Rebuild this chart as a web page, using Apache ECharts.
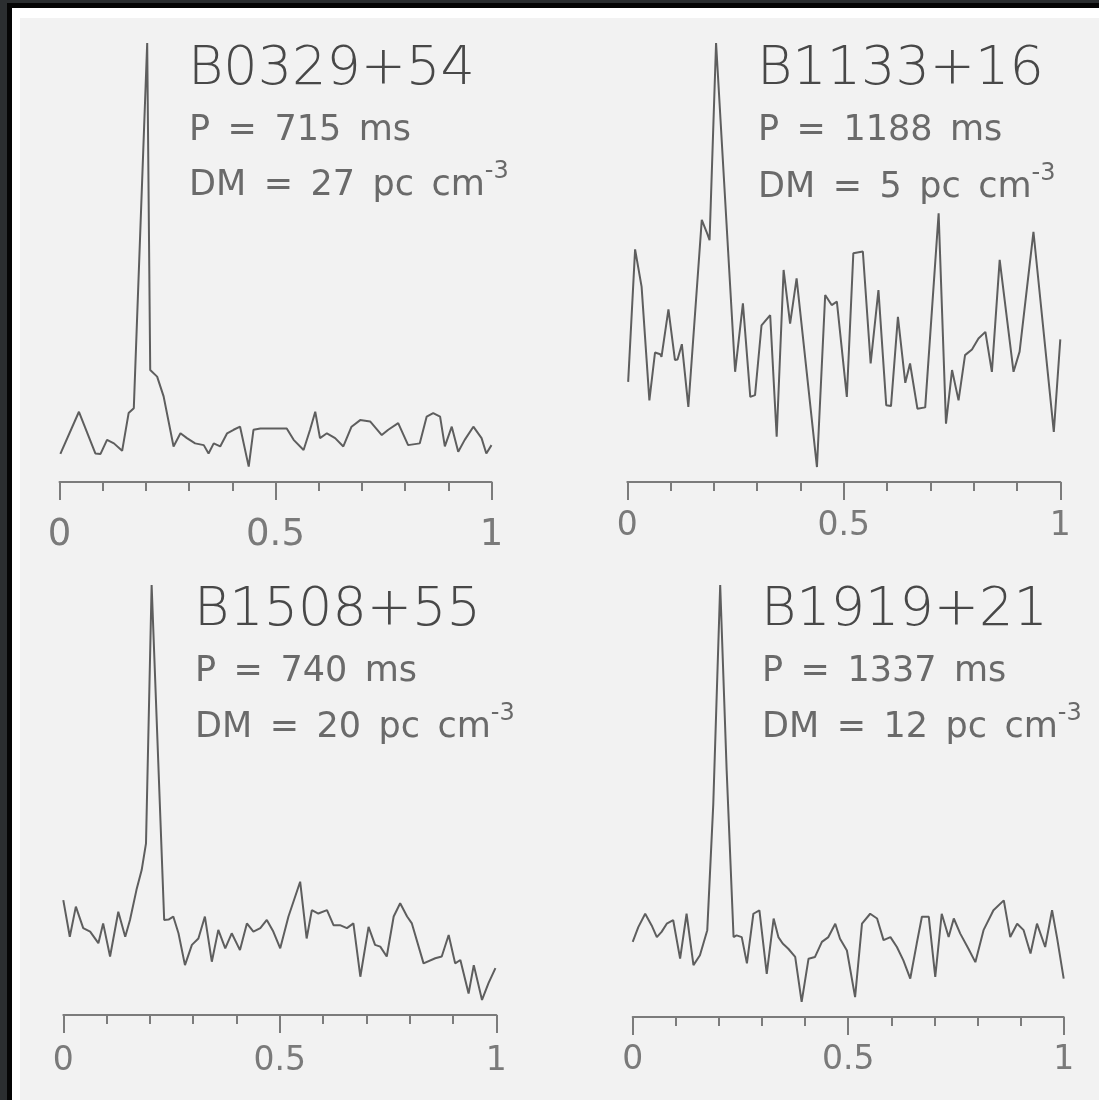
<!DOCTYPE html>
<html>
<head>
<meta charset="utf-8">
<script src="https://cdn.jsdelivr.net/npm/echarts@6/dist/echarts.min.js"></script>
<style>
  html, body { margin: 0; padding: 0; background: #2b2e30; }
  #chart { width: 1099px; height: 1100px; }
</style>
</head>
<body>
<div id="chart"></div>
<script>
// Pulsar parameters
const pulsarNames = ['B0329+54', 'B1133+16', 'B1508+55', 'B1919+21'];
const periodsMs = [715, 1188, 740, 1337];
const dispersionMeasures = [27, 5, 20, 12];

// Integrated pulse profiles: pulse phase and normalised intensity
const b0329Phase = [0.002, 0.045, 0.083, 0.095, 0.110, 0.126, 0.145, 0.160, 0.172, 0.203, 0.210, 0.226, 0.241, 0.264, 0.280, 0.295, 0.314, 0.334, 0.345, 0.357, 0.372, 0.388, 0.403, 0.418, 0.438, 0.449, 0.465, 0.488, 0.526, 0.542, 0.565, 0.580, 0.592, 0.603, 0.619, 0.638, 0.657, 0.676, 0.696, 0.719, 0.746, 0.761, 0.784, 0.807, 0.834, 0.850, 0.865, 0.881, 0.892, 0.908, 0.923, 0.938, 0.958, 0.977, 0.988, 1.000];
const b0329Flux = [0.064, 0.160, 0.065, 0.064, 0.096, 0.088, 0.071, 0.157, 0.168, 1.000, 0.255, 0.240, 0.195, 0.081, 0.111, 0.100, 0.088, 0.084, 0.065, 0.088, 0.081, 0.111, 0.119, 0.126, 0.035, 0.119, 0.122, 0.122, 0.122, 0.096, 0.073, 0.119, 0.160, 0.100, 0.111, 0.100, 0.081, 0.126, 0.141, 0.138, 0.107, 0.119, 0.134, 0.084, 0.088, 0.149, 0.157, 0.149, 0.081, 0.126, 0.069, 0.096, 0.126, 0.100, 0.065, 0.084];

const b1133Phase = [0.002, 0.018, 0.033, 0.051, 0.064, 0.076, 0.079, 0.095, 0.110, 0.116, 0.126, 0.141, 0.172, 0.183, 0.190, 0.205, 0.249, 0.267, 0.284, 0.295, 0.310, 0.330, 0.345, 0.361, 0.376, 0.391, 0.438, 0.457, 0.472, 0.484, 0.507, 0.522, 0.544, 0.562, 0.580, 0.598, 0.609, 0.625, 0.642, 0.653, 0.670, 0.688, 0.719, 0.736, 0.750, 0.765, 0.780, 0.796, 0.811, 0.827, 0.842, 0.860, 0.892, 0.906, 0.938, 0.985, 1.000];
const b1133Flux = [0.228, 0.530, 0.445, 0.186, 0.295, 0.291, 0.285, 0.393, 0.278, 0.279, 0.314, 0.171, 0.597, 0.570, 0.551, 1.000, 0.251, 0.407, 0.194, 0.198, 0.357, 0.380, 0.103, 0.483, 0.361, 0.464, 0.034, 0.426, 0.403, 0.411, 0.194, 0.521, 0.525, 0.270, 0.437, 0.175, 0.173, 0.376, 0.226, 0.270, 0.167, 0.170, 0.612, 0.133, 0.255, 0.186, 0.289, 0.302, 0.327, 0.342, 0.251, 0.506, 0.251, 0.297, 0.570, 0.114, 0.325];

const b1508Phase = [0.000, 0.015, 0.029, 0.046, 0.062, 0.081, 0.092, 0.108, 0.127, 0.143, 0.154, 0.169, 0.181, 0.191, 0.204, 0.233, 0.243, 0.254, 0.266, 0.281, 0.297, 0.312, 0.327, 0.343, 0.358, 0.374, 0.389, 0.408, 0.424, 0.439, 0.455, 0.470, 0.485, 0.501, 0.520, 0.547, 0.562, 0.574, 0.589, 0.609, 0.624, 0.639, 0.655, 0.670, 0.686, 0.705, 0.720, 0.732, 0.747, 0.763, 0.778, 0.794, 0.805, 0.832, 0.859, 0.874, 0.890, 0.905, 0.917, 0.936, 0.948, 0.967, 0.982, 0.998];
const b1508Flux = [0.267, 0.182, 0.252, 0.202, 0.194, 0.167, 0.213, 0.136, 0.240, 0.182, 0.221, 0.291, 0.337, 0.399, 1.000, 0.221, 0.222, 0.229, 0.190, 0.116, 0.163, 0.178, 0.229, 0.124, 0.198, 0.155, 0.190, 0.151, 0.213, 0.194, 0.202, 0.221, 0.194, 0.155, 0.229, 0.310, 0.178, 0.244, 0.236, 0.244, 0.209, 0.209, 0.202, 0.213, 0.089, 0.205, 0.163, 0.159, 0.136, 0.229, 0.260, 0.229, 0.213, 0.120, 0.132, 0.136, 0.186, 0.120, 0.128, 0.050, 0.116, 0.035, 0.074, 0.109];

const b1919Phase = [0.000, 0.013, 0.029, 0.044, 0.056, 0.067, 0.079, 0.094, 0.110, 0.125, 0.141, 0.156, 0.173, 0.187, 0.203, 0.218, 0.234, 0.241, 0.253, 0.265, 0.280, 0.294, 0.311, 0.327, 0.338, 0.348, 0.361, 0.377, 0.392, 0.408, 0.423, 0.439, 0.454, 0.470, 0.481, 0.497, 0.516, 0.532, 0.551, 0.567, 0.582, 0.598, 0.613, 0.628, 0.644, 0.659, 0.671, 0.687, 0.702, 0.717, 0.733, 0.745, 0.760, 0.779, 0.795, 0.814, 0.837, 0.861, 0.876, 0.892, 0.907, 0.923, 0.938, 0.957, 0.973, 0.985, 1.000];
const b1919Flux = [0.174, 0.208, 0.239, 0.212, 0.185, 0.197, 0.216, 0.224, 0.135, 0.239, 0.120, 0.143, 0.201, 0.494, 1.000, 0.571, 0.185, 0.189, 0.185, 0.124, 0.239, 0.247, 0.100, 0.228, 0.185, 0.170, 0.158, 0.139, 0.035, 0.135, 0.139, 0.174, 0.185, 0.216, 0.181, 0.154, 0.046, 0.216, 0.239, 0.228, 0.178, 0.185, 0.162, 0.131, 0.089, 0.170, 0.232, 0.232, 0.093, 0.239, 0.185, 0.228, 0.193, 0.158, 0.127, 0.201, 0.247, 0.270, 0.185, 0.216, 0.201, 0.147, 0.216, 0.162, 0.247, 0.181, 0.089];

const profiles = [
  [b0329Phase, b0329Flux],
  [b1133Phase, b1133Flux],
  [b1508Phase, b1508Flux],
  [b1919Phase, b1919Flux]
];

// Panel placement on the page
const layout = [
  { left: 59.5,  top: 43,  width: 432, height: 439, labelSize: 37, labelMargin: 35, textX: 188, titleY: 70, pY: 131, dmY: 186 },
  { left: 627.3, top: 43,  width: 433, height: 439, labelSize: 33, labelMargin: 28, textX: 757, titleY: 70, pY: 131, dmY: 188 },
  { left: 63.3,  top: 585, width: 433, height: 430, labelSize: 33, labelMargin: 30, textX: 194, titleY: 611, pY: 672, dmY: 728 },
  { left: 632.7, top: 585, width: 431, height: 432, labelSize: 33, labelMargin: 27, textX: 761, titleY: 611, pY: 672, dmY: 728 }
];

const FONT = '"DejaVu Sans", "Liberation Sans", sans-serif';
const AXIS_COLOR = '#7c7c7c';
const TITLE_COLOR = '#484848';
const TEXT_COLOR = '#6a6a6a';
const LINE_COLOR = '#5e5e5e';
const GAP = '\u2002';   // en space: the annotation uses widely spaced words

const grids = [], xAxes = [], yAxes = [], series = [], texts = [];

layout.forEach((L, i) => {
  grids.push({ left: L.left, top: L.top, width: L.width, height: L.height });

  // minor ticks every 0.1 with the axis line
  xAxes.push({
    gridIndex: i, type: 'value', position: 'bottom', min: 0, max: 1, interval: 0.1,
    axisLine: { show: true, onZero: false, lineStyle: { color: AXIS_COLOR, width: 2 } },
    axisTick: { show: true, length: 9, lineStyle: { color: AXIS_COLOR, width: 2 } },
    axisLabel: { show: false }, splitLine: { show: false }
  });
  // major ticks every 0.5 with labels
  xAxes.push({
    gridIndex: i, type: 'value', position: 'bottom', min: 0, max: 1, interval: 0.5,
    axisLine: { show: false, onZero: false },
    axisTick: { show: true, length: 18, lineStyle: { color: AXIS_COLOR, width: 2 } },
    axisLabel: { show: true, fontSize: L.labelSize, fontFamily: FONT, color: '#7a7a7a', margin: L.labelMargin },
    splitLine: { show: false }
  });
  yAxes.push({ gridIndex: i, type: 'value', min: 0, max: 1, show: false });

  const [ph, fl] = profiles[i];
  series.push({
    type: 'line', xAxisIndex: 2 * i + 1, yAxisIndex: i,
    data: ph.map((p, k) => [p, fl[k]]),
    showSymbol: false, clip: false, silent: true,
    lineStyle: { color: LINE_COLOR, width: 2 }
  });

  texts.push({
    type: 'text', x: L.textX, y: L.titleY, z: 10,
    style: { text: pulsarNames[i], font: '200 54px ' + FONT, fill: TITLE_COLOR, align: 'left', verticalAlign: 'middle' }
  });
  texts.push({
    type: 'text', x: L.textX + 1, y: L.pY, z: 10,
    style: { text: ['P', '=', periodsMs[i], 'ms'].join(GAP), font: '35px ' + FONT, fill: TEXT_COLOR, align: 'left', verticalAlign: 'middle' }
  });
  texts.push({
    type: 'text', x: L.textX + 1, y: L.dmY, z: 10,
    style: {
      text: ['DM', '=', dispersionMeasures[i], 'pc', 'cm'].join(GAP) + '{sup|-3}',
      fontSize: 35, fontFamily: FONT, lineHeight: 52, fill: TEXT_COLOR,
      align: 'left', verticalAlign: 'middle',
      rich: { sup: { fontSize: 24, fontFamily: FONT, lineHeight: 24, verticalAlign: 'top', fill: TEXT_COLOR } }
    }
  });
});

// picture frame
const frame = [
  { type: 'rect', z: -10, shape: { x: 7, y: 3, width: 1092, height: 1097 }, style: { fill: '#050505' } },
  { type: 'rect', z: -10, shape: { x: 12, y: 8, width: 1087, height: 1092 }, style: { fill: '#ffffff' } },
  { type: 'rect', z: -10, shape: { x: 20, y: 18, width: 1079, height: 1082 }, style: { fill: '#f2f2f2' } }
];

const chart = echarts.init(document.getElementById('chart'));
chart.setOption({
  animation: false,
  backgroundColor: '#2b2e30',
  grid: grids,
  xAxis: xAxes,
  yAxis: yAxes,
  series: series,
  graphic: frame.concat(texts)
});
</script>
</body>
</html>
